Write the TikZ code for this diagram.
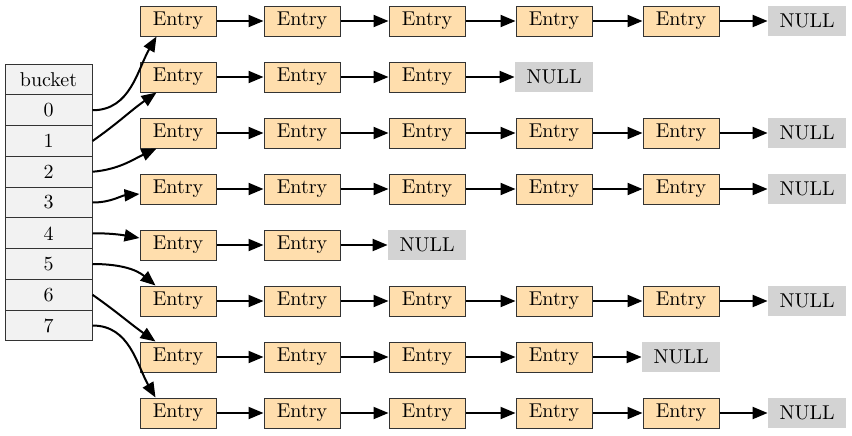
\documentclass[tikz,border=0pt]{standalone}
\usetikzlibrary{arrows.meta}
\definecolor{entryfill}{HTML}{FFDEAD}
\definecolor{nullfill}{HTML}{D3D3D3}
\definecolor{bucketfill}{HTML}{F2F2F2}
\definecolor{edgegray}{HTML}{333333}
\begin{document}
\begin{tikzpicture}[x=0.5pt,y=0.5pt,
 entry/.style={draw=edgegray, line width=0.5pt, fill=entryfill, minimum width=38pt, minimum height=15pt, inner sep=0pt},
 nullbox/.style={fill=nullfill, minimum width=39pt, minimum height=15pt, inner sep=0pt},
 cell/.style={draw=edgegray, line width=0.5pt, fill=bucketfill, minimum width=43.5pt, minimum height=15.37pt, inner sep=0pt},
 link/.style={line width=1pt, -{Triangle[length=7.5pt,width=6pt]}}]
\useasboundingbox (0,0) rectangle (852,-435);
% bucket table
\node[cell] (bh) at (48.5,-79.5) {bucket};
\foreach \i in {0,...,7} {
  \node[cell] (b\i) at (48.5,{-110.25-30.75*\i}) {\i};
}
% chains
\foreach \r/\n in {0/5,1/3,2/5,3/5,4/2,5/5,6/4,7/5} {
  \foreach \c in {1,...,\n} {
    \pgfmathsetmacro\xx{{178,302,427,554,681,807}[\c-1]}
    \node[entry] (e\r\c) at (\xx,{-21-56*\r}) {Entry};
  }
  \pgfmathsetmacro\xn{{178,302,427,554,681,807}[\n]}
  \node[nullbox] (n\r) at (\xn,{-21-56*\r}) {NULL};
  \pgfmathtruncatemacro\m{\n-1}
  \foreach \c [evaluate=\c as \d using int(\c+1)] in {1,...,\m} {
    \draw[link] (e\r\c) -- (e\r\d);
  }
  \draw[link] (e\r\n) -- (n\r);
}
% bucket links
\draw[link] (b0.east) to[out=0,in=240] ([xshift=8.5pt]e01.south west);
\draw[link] (b1.east) to[out=35,in=215] ([xshift=8.5pt]e11.south west);
\draw[link] (b2.east) to[out=5,in=205] ([xshift=8.5pt]e21.south west);
\draw[link] (b3.east) to[out=0,in=185] ([yshift=-2.5pt]e31.west);
\draw[link] (b4.east) to[out=0,in=170] ([yshift=3.5pt]e41.west);
\draw[link] (b5.east) to[out=0,in=140] ([xshift=8pt]e51.north west);
\draw[link] (b6.east) to[out=-35,in=145] ([xshift=8pt]e61.north west);
\draw[link] (b7.east) to[out=0,in=120] ([xshift=8pt]e71.north west);
\end{tikzpicture}
\end{document}
